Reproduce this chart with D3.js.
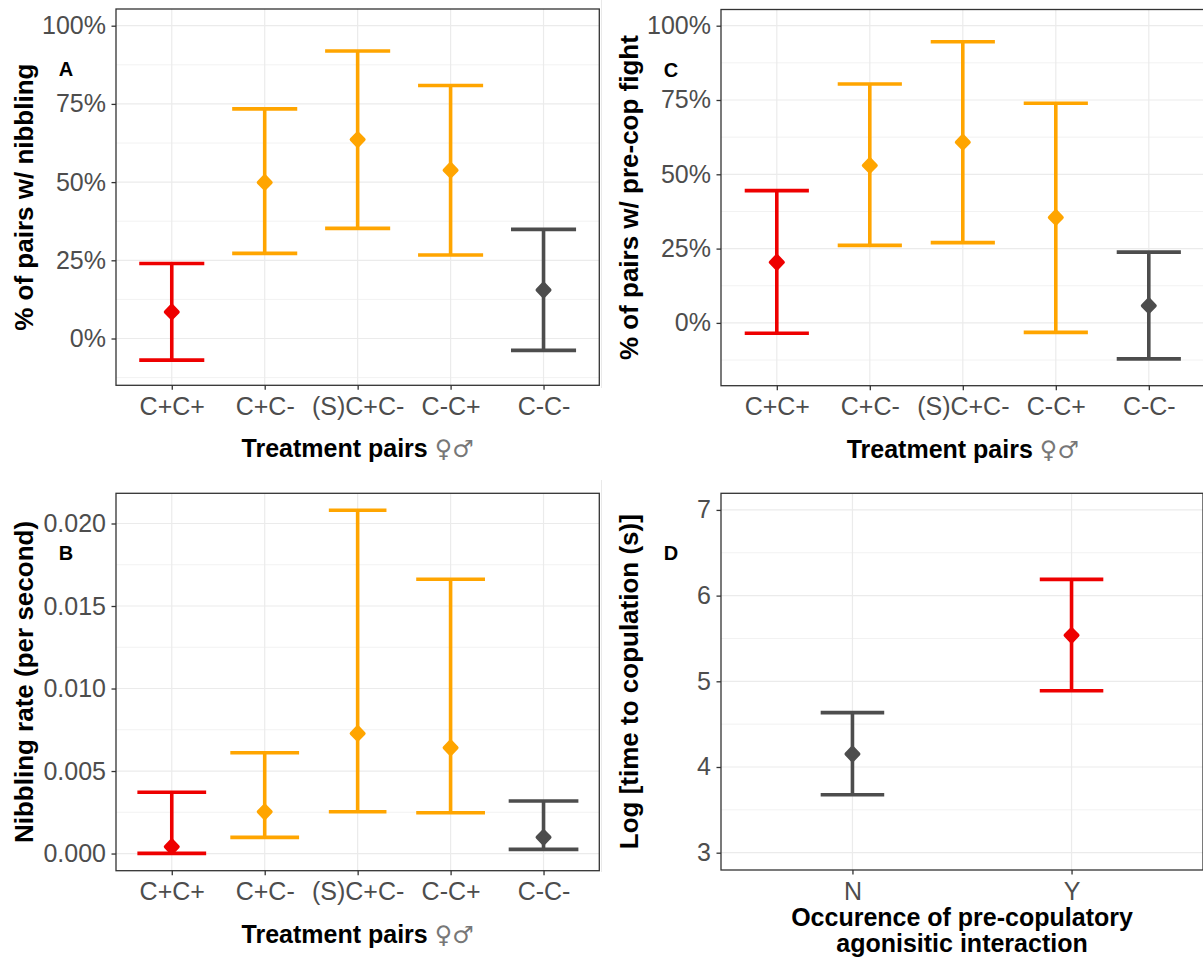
<!DOCTYPE html>
<html>
<head>
<meta charset="utf-8">
<script src="https://cdn.jsdelivr.net/npm/d3@7"></script>
<style>
  body { margin: 0; background: #fff; }
  svg { display: block; }
</style>
</head>
<body>
<div id="chart"></div>
<script>
// Data
const treatments = ['C+C+', 'C+C-', '(S)C+C-', 'C-C+', 'C-C-']
const interaction = ['N', 'Y']

// A: % of pairs with nibbling
const nibblingMean = [0.085, 0.499, 0.636, 0.538, 0.155]
const nibblingLower = [-0.069, 0.272, 0.352, 0.267, -0.038]
const nibblingUpper = [0.240, 0.734, 0.919, 0.809, 0.349]

// C: % of pairs with pre-cop fight
const fightMean = [0.204, 0.530, 0.608, 0.355, 0.058]
const fightLower = [-0.035, 0.261, 0.270, -0.032, -0.121]
const fightUpper = [0.445, 0.804, 0.946, 0.739, 0.238]

// B: nibbling rate per second
const rateMean = [0.00041, 0.00253, 0.00728, 0.00641, 0.00098]
const rateLower = [0.00001, 0.00098, 0.00253, 0.00247, 0.00025]
const rateUpper = [0.00371, 0.00611, 0.0208, 0.01662, 0.00318]

// D: log time to copulation
const copMean = [4.152, 5.537]
const copLower = [3.677, 4.890]
const copUpper = [4.634, 6.190]

// tick values
const pctTicks = [0, 0.25, 0.5, 0.75, 1]
const rateTicks = [0, 0.005, 0.01, 0.015, 0.02]
const logTicks = [3, 4, 5, 6, 7]

// Colours
const treatColour = d3.scaleOrdinal()
  .domain(treatments)
  .range(['#ee0000', '#ffa500', '#ffa500', '#ffa500', '#4d4d4d'])
const interactionColour = d3.scaleOrdinal()
  .domain(interaction)
  .range(['#4d4d4d', '#ee0000'])

const font = '"Liberation Sans", Arial, Helvetica, sans-serif'

const svg = d3.select('#chart')
  .append('svg')
  .attr('width', 1203)
  .attr('height', 960)

svg.append('rect').attr('width', 1203).attr('height', 960).attr('fill', '#fff')

// faint seam between the left and right plots
svg.append('g')
  .selectAll('line')
  .data([[0, 388], [480, 872]])
  .join('line')
  .attr('x1', 601.5).attr('x2', 601.5)
  .attr('y1', d => d[0]).attr('y2', d => d[1])
  .attr('stroke', '#e9e9e9')

const rows = (cats, mean, lower, upper) =>
  cats.map((c, i) => ({ cat: c, mean: mean[i], lower: lower[i], upper: upper[i] }))

function drawPanel(p) {
  const x = d3.scalePoint()
    .domain(p.cats)
    .range([p.x0, p.x1])
    .padding(0.6)
  const y = d3.scaleLinear()
    .domain(p.yDomain)
    .range([p.y1, p.y0])

  const g = svg.append('g')

  // grid
  const step = p.ticks[1] - p.ticks[0]
  const minor = [p.ticks[0] - step / 2, ...p.ticks.map(t => t + step / 2)]
    .filter(v => v > p.yDomain[0] && v < p.yDomain[1])

  g.append('g').selectAll('line')
    .data(minor)
    .join('line')
    .attr('x1', p.x0).attr('x2', p.x1)
    .attr('y1', d => y(d)).attr('y2', d => y(d))
    .attr('stroke', '#f2f2f2')
    .attr('stroke-width', 1)

  g.append('g').selectAll('line')
    .data(p.ticks)
    .join('line')
    .attr('x1', p.x0).attr('x2', p.x1)
    .attr('y1', d => y(d)).attr('y2', d => y(d))
    .attr('stroke', '#ebebeb')
    .attr('stroke-width', 1.2)

  g.append('g').selectAll('line')
    .data(p.cats)
    .join('line')
    .attr('x1', d => x(d)).attr('x2', d => x(d))
    .attr('y1', p.y0).attr('y2', p.y1)
    .attr('stroke', '#ebebeb')
    .attr('stroke-width', 1.2)

  // error bars
  const bars = g.append('g').selectAll('g')
    .data(p.data)
    .join('g')
    .attr('stroke', d => p.colour(d.cat))
    .attr('stroke-width', 3.6)
    .attr('fill', 'none')

  bars.append('line')
    .attr('x1', d => x(d.cat)).attr('x2', d => x(d.cat))
    .attr('y1', d => y(d.lower)).attr('y2', d => y(d.upper))

  const capHalf = (d, i) => (Array.isArray(p.cap) ? p.cap[i] : p.cap) * x.step() / 2
  bars.append('line')
    .attr('x1', (d, i) => x(d.cat) - capHalf(d, i))
    .attr('x2', (d, i) => x(d.cat) + capHalf(d, i))
    .attr('y1', d => y(d.upper)).attr('y2', d => y(d.upper))
  bars.append('line')
    .attr('x1', (d, i) => x(d.cat) - capHalf(d, i))
    .attr('x2', (d, i) => x(d.cat) + capHalf(d, i))
    .attr('y1', d => y(d.lower)).attr('y2', d => y(d.lower))

  // points (rounded diamonds)
  g.append('g').selectAll('path')
    .data(p.data)
    .join('path')
    .attr('transform', d => `translate(${x(d.cat)}, ${y(d.mean)})`)
    .attr('d', 'M0,-6.4 L6.2,0 L0,6.4 L-6.2,0 Z')
    .attr('fill', d => p.colour(d.cat))
    .attr('stroke', d => p.colour(d.cat))
    .attr('stroke-width', 3.6)
    .attr('stroke-linejoin', 'round')

  // border
  g.append('rect')
    .attr('x', p.x0).attr('y', p.y0)
    .attr('width', p.x1 - p.x0).attr('height', p.y1 - p.y0)
    .attr('fill', 'none')
    .attr('stroke', '#333')
    .attr('stroke-width', 1.3)

  // axes
  const xAxis = g.append('g')
    .attr('transform', `translate(0, ${p.y1})`)
    .call(d3.axisBottom(x).tickSize(4.5).tickPadding(7.5))
  const yAxis = g.append('g')
    .attr('transform', `translate(${p.x0}, 0)`)
    .call(d3.axisLeft(y).tickValues(p.ticks).tickFormat(p.format).tickSize(4.5).tickPadding(5.5))

  for (const ax of [xAxis, yAxis]) {
    ax.attr('font-family', font).attr('font-size', 25)
    ax.select('.domain').remove()
    ax.selectAll('.tick line').attr('stroke', '#333').attr('stroke-width', 1.3)
    ax.selectAll('.tick text').attr('fill', '#4d4d4d')
  }

  // y title
  const cy = (p.y0 + p.y1) / 2
  g.append('text')
    .attr('transform', `translate(${p.x0 - 83}, ${cy}) rotate(-90)`)
    .attr('text-anchor', 'middle')
    .attr('font-family', font)
    .attr('font-weight', 'bold')
    .attr('font-size', 26)
    .attr('fill', '#000')
    .text(p.yTitle)

  // x title
  const cx = (p.x0 + p.x1) / 2
  const xt = g.append('text')
    .attr('x', cx)
    .attr('y', p.y1 + 72)
    .attr('text-anchor', 'middle')
    .attr('font-family', font)
    .attr('font-weight', 'bold')
    .attr('font-size', 25)
    .attr('fill', '#000')
  if (p.xTitle2) {
    xt.attr('y', p.y1 + 56).text(p.xTitle)
    g.append('text')
      .attr('x', cx)
      .attr('y', p.y1 + 81.5)
      .attr('text-anchor', 'middle')
      .attr('font-family', font)
      .attr('font-weight', 'bold')
      .attr('font-size', 25)
      .attr('fill', '#000')
      .text(p.xTitle2)
  } else {
    xt.append('tspan').text(p.xTitle + ' ')
    xt.append('tspan')
      .attr('font-family', '"DejaVu Sans", sans-serif')
      .attr('font-weight', 'normal')
      .attr('font-size', 24)
      .attr('fill', '#777')
      .text('\u2640\u2642')
  }

  // panel letter
  g.append('text')
    .attr('x', p.x0 - 50)
    .attr('y', p.y0 + 67)
    .attr('text-anchor', 'middle')
    .attr('font-family', font)
    .attr('font-weight', 'bold')
    .attr('font-size', 20)
    .attr('fill', '#000')
    .text(p.letter)
}

const pctFormat = d3.format('.0%')

drawPanel({
  letter: 'A',
  cats: treatments,
  data: rows(treatments, nibblingMean, nibblingLower, nibblingUpper),
  colour: treatColour,
  x0: 116, x1: 599.3, y0: 9, y1: 385.3,
  yDomain: [-0.1496, 1.0534],
  ticks: pctTicks,
  format: pctFormat,
  cap: 0.7,
  yTitle: '% of pairs w/ nibbling',
  xTitle: 'Treatment pairs'
})

drawPanel({
  letter: 'C',
  cats: treatments,
  data: rows(treatments, fightMean, fightLower, fightUpper),
  colour: treatColour,
  x0: 721, x1: 1204.6, y0: 9.5, y1: 385.7,
  yDomain: [-0.2113, 1.0545],
  ticks: pctTicks,
  format: pctFormat,
  cap: 0.69,
  yTitle: '% of pairs w/ pre-cop fight',
  xTitle: 'Treatment pairs'
})

drawPanel({
  letter: 'B',
  cats: treatments,
  data: rows(treatments, rateMean, rateLower, rateUpper),
  colour: treatColour,
  x0: 116, x1: 599.3, y0: 493.3, y1: 870.7,
  yDomain: [-0.00104, 0.02183],
  ticks: rateTicks,
  format: d3.format('.3f'),
  cap: [0.74, 0.74, 0.62, 0.74, 0.75],
  yTitle: 'Nibbling rate (per second)',
  xTitle: 'Treatment pairs'
})

drawPanel({
  letter: 'D',
  cats: interaction,
  data: rows(interaction, copMean, copLower, copUpper),
  colour: interactionColour,
  x0: 721, x1: 1203, y0: 493.3, y1: 870,
  yDomain: [2.798, 7.194],
  ticks: logTicks,
  format: d3.format('d'),
  cap: 0.29,
  yTitle: 'Log [time to copulation (s)]',
  xTitle: 'Occurence of pre-copulatory',
  xTitle2: 'agonisitic interaction'
})
</script>
</body>
</html>
